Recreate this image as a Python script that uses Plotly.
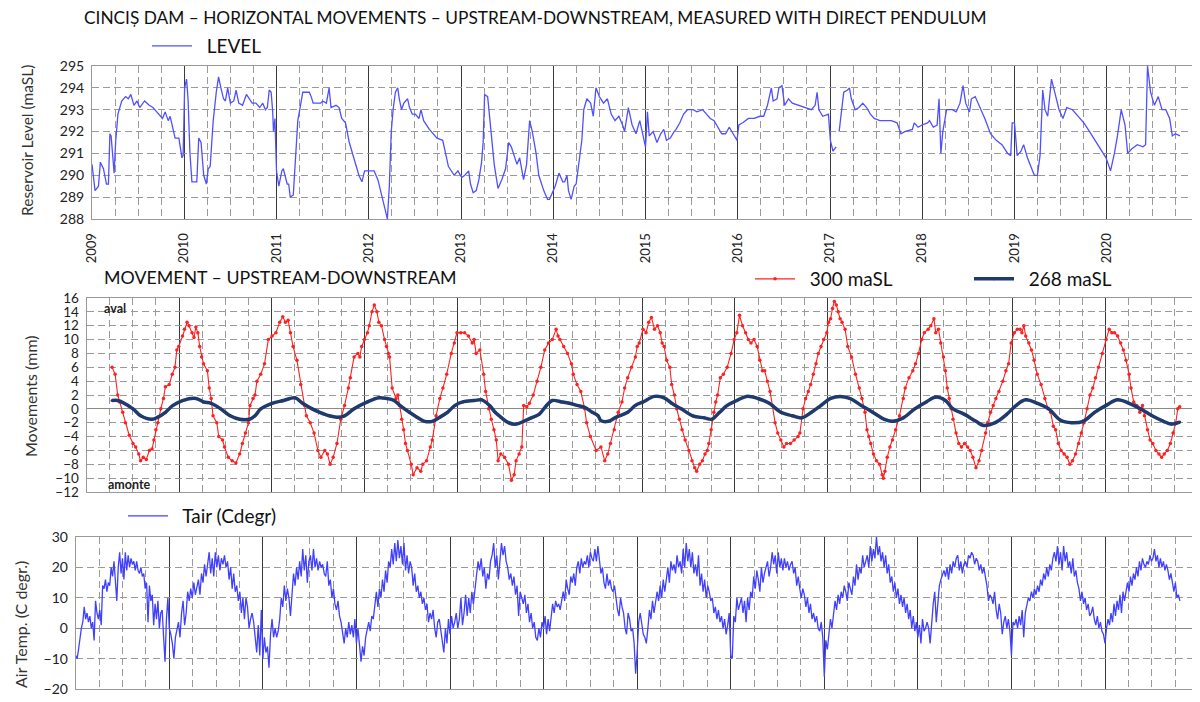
import numpy as np
import plotly.graph_objects as go

# ---------------- DATA ----------------
YEARS = list(range(2009, 2021))
YEAR_LABELS = [str(y) for y in YEARS]

# Reservoir level (maSL): decimal year / value
LEVEL_T = [2009.00, 2009.033, 2009.07, 2009.091, 2009.124, 2009.157, 2009.178, 2009.194, 2009.207, 2009.240,
           2009.256, 2009.281, 2009.322, 2009.364, 2009.393, 2009.421, 2009.455, 2009.488, 2009.517, 2009.570,
           2009.620, 2009.661, 2009.702, 2009.764, 2009.793, 2009.826, 2009.847, 2009.880, 2009.901, 2009.942,
           2009.975, 2009.988, 2010.004, 2010.025, 2010.041, 2010.062, 2010.083, 2010.136, 2010.157, 2010.182,
           2010.211, 2010.240, 2010.260, 2010.281, 2010.314, 2010.347, 2010.372, 2010.397, 2010.426, 2010.446,
           2010.471, 2010.500, 2010.537, 2010.562, 2010.591, 2010.632, 2010.674, 2010.736, 2010.777, 2010.818,
           2010.851, 2010.880, 2010.901, 2010.921, 2010.942, 2010.959, 2010.967, 2010.983, 2011.000, 2011.025,
           2011.058, 2011.074, 2011.116, 2011.132, 2011.149, 2011.182, 2011.202, 2011.231, 2011.252, 2011.285,
           2011.355, 2011.376, 2011.397, 2011.479, 2011.500, 2011.541, 2011.570, 2011.591, 2011.645, 2011.678,
           2011.707, 2011.748, 2011.789, 2011.843, 2011.893, 2011.926, 2011.955, 2012.037, 2012.058, 2012.099,
           2012.140, 2012.174, 2012.202, 2012.223, 2012.244, 2012.264, 2012.289, 2012.314, 2012.331, 2012.355,
           2012.380, 2012.421, 2012.442, 2012.471, 2012.504, 2012.545, 2012.566, 2012.595, 2012.657, 2012.698,
           2012.740, 2012.802, 2012.835, 2012.864, 2012.926, 2012.967, 2013.008, 2013.041, 2013.083, 2013.103,
           2013.132, 2013.165, 2013.194, 2013.223, 2013.240, 2013.256, 2013.289, 2013.326, 2013.360, 2013.401,
           2013.442, 2013.483, 2013.517, 2013.545, 2013.579, 2013.607, 2013.636, 2013.661, 2013.678, 2013.711,
           2013.744, 2013.773, 2013.814, 2013.843, 2013.876, 2013.897, 2013.938, 2013.959, 2014.021, 2014.062,
           2014.103, 2014.124, 2014.149, 2014.165, 2014.194, 2014.227, 2014.248, 2014.269, 2014.310, 2014.331,
           2014.364, 2014.405, 2014.434, 2014.463, 2014.50, 2014.545, 2014.587, 2014.628, 2014.669, 2014.711,
           2014.752, 2014.773, 2014.814, 2014.855, 2014.897, 2014.938, 2014.971, 2015.000, 2015.021, 2015.041,
           2015.083, 2015.124, 2015.165, 2015.198, 2015.227, 2015.269, 2015.310, 2015.331, 2015.372, 2015.413,
           2015.455, 2015.517, 2015.558, 2015.620, 2015.661, 2015.702, 2015.744, 2015.785, 2015.826, 2015.868,
           2015.909, 2015.950, 2015.992, 2016.012, 2016.054, 2016.116, 2016.178, 2016.240, 2016.281, 2016.322,
           2016.364, 2016.384, 2016.426, 2016.446, 2016.479, 2016.508, 2016.550, 2016.591, 2016.653, 2016.736,
           2016.798, 2016.839, 2016.860, 2016.880, 2016.921, 2016.983, 2017.004, 2017.033, 2017.066, 2017.080,
           2017.099, 2017.149, 2017.190, 2017.211, 2017.231, 2017.273, 2017.314, 2017.355, 2017.397, 2017.438,
           2017.479, 2017.541, 2017.603, 2017.665, 2017.727, 2017.769, 2017.810, 2017.893, 2017.913, 2017.955,
           2017.996, 2018.058, 2018.079, 2018.120, 2018.161, 2018.182, 2018.202, 2018.223, 2018.264, 2018.326,
           2018.368, 2018.409, 2018.442, 2018.471, 2018.512, 2018.533, 2018.574, 2018.616, 2018.678, 2018.740,
           2018.802, 2018.864, 2018.926, 2018.959, 2018.975, 2019.000, 2019.029, 2019.070, 2019.099, 2019.140,
           2019.174, 2019.215, 2019.248, 2019.277, 2019.306, 2019.331, 2019.360, 2019.401, 2019.442, 2019.483,
           2019.525, 2019.566, 2019.628, 2019.690, 2019.752, 2019.814, 2019.876, 2019.938, 2019.992, 2020.041,
           2020.083, 2020.116, 2020.157, 2020.198, 2020.227, 2020.269, 2020.331, 2020.393, 2020.421, 2020.442,
           2020.475, 2020.517, 2020.558, 2020.599, 2020.640, 2020.682, 2020.711, 2020.744, 2020.793]
LEVEL_V = [290.5, 289.3, 289.5, 290.6, 290.3, 289.6, 289.6, 291.9, 291.8, 290.1,
           291.5, 292.8, 293.4, 293.6, 293.5, 293.7, 293.2, 293.4, 293.1, 293.4,
           293.2, 293.1, 292.9, 292.6, 292.9, 292.5, 292.7, 292.0, 291.7, 291.7,
           290.8, 290.9, 294.0, 294.4, 293.5, 291.0, 289.7, 289.7, 291.7, 291.5,
           290.0, 289.6, 290.3, 290.4, 292.5, 293.8, 294.5, 294.0, 293.5, 293.4,
           294.0, 293.3, 293.4, 293.9, 293.3, 293.2, 293.7, 293.3, 293.3, 293.1,
           293.3, 293.0, 293.1, 293.9, 293.8, 292.9, 292.0, 292.6, 290.2, 289.5,
           290.2, 290.3, 289.6, 289.6, 289.0, 289.1, 290.5, 292.5, 293.0, 293.8,
           293.8, 293.6, 293.3, 293.3, 293.4, 293.3, 294.0, 293.1, 293.2, 293.1,
           292.6, 292.4, 291.5, 290.7, 290.0, 289.7, 290.2, 290.2, 290.2, 289.8,
           289.0, 288.5, 288.0, 289.5, 292.0, 293.0, 293.8, 294.0, 293.5, 293.0,
           293.3, 293.5, 293.1, 292.8, 292.8, 292.6, 293.0, 292.5, 292.1, 291.9,
           291.7, 291.6, 291.0, 290.4, 290.0, 290.2, 289.9, 290.0, 290.2, 289.6,
           289.2, 289.3, 289.8, 290.6, 291.5, 293.7, 293.6, 292.0, 290.5, 289.4,
           289.8, 290.3, 291.5, 291.3, 290.8, 290.5, 290.8, 290.2, 289.8, 290.5,
           292.5, 292.0, 291.0, 290.0, 289.5, 289.3, 288.9, 288.9, 289.5, 290.1,
           289.7, 289.7, 290.0, 289.3, 288.9, 289.5, 289.6, 290.2, 291.6, 293.0,
           293.5, 293.3, 292.7, 294.0, 293.6, 293.3, 293.5, 292.8, 292.5, 292.7,
           292.3, 292.0, 293.1, 292.3, 291.9, 292.5, 291.8, 291.3, 292.9, 291.8,
           292.0, 291.5, 291.9, 292.1, 291.6, 291.7, 292.0, 292.1, 292.4, 292.8,
           293.0, 293.0, 292.9, 293.0, 292.8, 292.6, 292.5, 292.2, 291.9, 291.9,
           292.2, 291.9, 291.6, 292.3, 292.4, 292.6, 292.6, 292.7, 292.7, 293.2,
           294.0, 293.4, 293.5, 294.0, 294.1, 293.2, 293.5, 293.3, 293.2, 293.1,
           293.0, 293.2, 293.8, 293.0, 292.7, 292.8, 291.6, 291.1, 291.3, None,
           292.0, 293.8, 293.9, 294.0, 293.5, 293.0, 293.1, 293.3, 293.1, 292.8,
           292.6, 292.5, 292.5, 292.5, 292.4, 291.9, 292.0, 292.1, 292.4, 292.2,
           292.3, 292.4, 292.5, 292.2, 292.3, 293.5, 291.0, 292.0, 293.0, 293.0,
           292.9, 293.3, 294.1, 293.3, 292.9, 293.5, 293.6, 293.2, 292.6, 291.9,
           291.6, 291.4, 291.0, 290.9, 292.4, 292.4, 290.9, 291.1, 291.4, 290.8,
           290.4, 290.0, 290.0, 290.9, 293.9, 293.0, 292.7, 294.4, 293.7, 293.0,
           292.6, 293.1, 293.0, 292.7, 292.4, 292.0, 291.6, 291.2, 290.8, 290.2,
           291.0, 291.8, 293.0, 292.3, 291.0, 291.2, 291.4, 291.3, 291.4, 295.0,
           293.8, 293.2, 293.6, 293.0, 293.0, 292.6, 291.8, 291.9, 291.8]

# Pendulum movement at 300 maSL (mm)
M300_T = [2009.276, 2009.309, 2009.337, 2009.358, 2009.391, 2009.420, 2009.461, 2009.502, 2009.531, 2009.564,
          2009.584, 2009.613, 2009.646, 2009.679, 2009.708, 2009.728, 2009.749, 2009.770, 2009.802, 2009.831,
          2009.852, 2009.893, 2009.926, 2009.955, 2009.975, 2009.996, 2010.037, 2010.058, 2010.086, 2010.107,
          2010.140, 2010.160, 2010.181, 2010.202, 2010.222, 2010.243, 2010.263, 2010.305, 2010.325, 2010.346,
          2010.366, 2010.407, 2010.428, 2010.469, 2010.490, 2010.531, 2010.572, 2010.613, 2010.654, 2010.683,
          2010.716, 2010.749, 2010.765, 2010.798, 2010.819, 2010.840, 2010.881, 2010.922, 2010.963, 2011.004,
          2011.045, 2011.086, 2011.119, 2011.148, 2011.177, 2011.202, 2011.230, 2011.272, 2011.313, 2011.354,
          2011.374, 2011.416, 2011.457, 2011.498, 2011.531, 2011.572, 2011.601, 2011.630, 2011.663, 2011.704,
          2011.745, 2011.786, 2011.827, 2011.848, 2011.889, 2011.930, 2011.951, 2011.971, 2012.000, 2012.033,
          2012.053, 2012.082, 2012.107, 2012.136, 2012.156, 2012.185, 2012.218, 2012.239, 2012.259, 2012.272,
          2012.300, 2012.342, 2012.362, 2012.383, 2012.403, 2012.424, 2012.444, 2012.465, 2012.506, 2012.527,
          2012.568, 2012.609, 2012.630, 2012.671, 2012.712, 2012.733, 2012.774, 2012.815, 2012.848, 2012.889,
          2012.938, 2012.971, 2013.000, 2013.041, 2013.082, 2013.123, 2013.165, 2013.185, 2013.206, 2013.247,
          2013.288, 2013.309, 2013.342, 2013.370, 2013.399, 2013.424, 2013.444, 2013.473, 2013.514, 2013.556,
          2013.588, 2013.617, 2013.638, 2013.671, 2013.700, 2013.720, 2013.753, 2013.782, 2013.823, 2013.864,
          2013.905, 2013.947, 2013.988, 2014.029, 2014.070, 2014.091, 2014.111, 2014.152, 2014.193, 2014.235,
          2014.255, 2014.296, 2014.337, 2014.379, 2014.399, 2014.440, 2014.502, 2014.554, 2014.595, 2014.628,
          2014.657, 2014.698, 2014.740, 2014.781, 2014.810, 2014.843, 2014.884, 2014.926, 2014.946, 2014.967,
          2015.008, 2015.041, 2015.070, 2015.099, 2015.132, 2015.165, 2015.194, 2015.215, 2015.236, 2015.264,
          2015.298, 2015.318, 2015.347, 2015.372, 2015.401, 2015.430, 2015.463, 2015.504, 2015.537, 2015.566,
          2015.587, 2015.620, 2015.649, 2015.678, 2015.702, 2015.719, 2015.744, 2015.773, 2015.793, 2015.814,
          2015.843, 2015.876, 2015.917, 2015.959, 2015.992, 2016.021, 2016.050, 2016.083, 2016.116, 2016.145,
          2016.174, 2016.207, 2016.240, 2016.269, 2016.298, 2016.322, 2016.351, 2016.380, 2016.405, 2016.434,
          2016.463, 2016.496, 2016.529, 2016.558, 2016.599, 2016.640, 2016.682, 2016.702, 2016.736, 2016.764,
          2016.793, 2016.818, 2016.847, 2016.876, 2016.901, 2016.930, 2016.959, 2016.992, 2017.012, 2017.033,
          2017.054, 2017.074, 2017.095, 2017.116, 2017.136, 2017.157, 2017.190, 2017.219, 2017.260, 2017.302,
          2017.343, 2017.372, 2017.405, 2017.426, 2017.446, 2017.467, 2017.496, 2017.529, 2017.562, 2017.591,
          2017.603, 2017.620, 2017.645, 2017.674, 2017.702, 2017.736, 2017.777, 2017.818, 2017.839, 2017.880,
          2017.921, 2017.950, 2017.983, 2018.017, 2018.045, 2018.087, 2018.116, 2018.149, 2018.169, 2018.198,
          2018.223, 2018.252, 2018.273, 2018.293, 2018.314, 2018.335, 2018.355, 2018.388, 2018.417, 2018.446,
          2018.479, 2018.512, 2018.541, 2018.570, 2018.603, 2018.636, 2018.665, 2018.707, 2018.727, 2018.760,
          2018.789, 2018.818, 2018.851, 2018.893, 2018.926, 2018.955, 2018.983, 2019.017, 2019.050, 2019.079,
          2019.099, 2019.120, 2019.140, 2019.174, 2019.202, 2019.231, 2019.264, 2019.306, 2019.347, 2019.380,
          2019.409, 2019.438, 2019.463, 2019.492, 2019.521, 2019.554, 2019.587, 2019.616, 2019.645, 2019.678,
          2019.711, 2019.740, 2019.769, 2019.802, 2019.835, 2019.864, 2019.893, 2019.926, 2019.967, 2020.008,
          2020.041, 2020.070, 2020.099, 2020.132, 2020.165, 2020.194, 2020.223, 2020.256, 2020.277, 2020.306,
          2020.339, 2020.372, 2020.401, 2020.421, 2020.455, 2020.483, 2020.512, 2020.545, 2020.579, 2020.607,
          2020.636, 2020.669, 2020.702, 2020.731, 2020.760, 2020.781, 2020.802]
M300_V = [6.0, 5.0, 2.0, 1.0, -0.5, -2.0, -3.8, -5.0, -5.5, -6.5,
          -7.5, -7.0, -7.3, -6.0, -5.8, -4.5, -3.0, -2.0, 0.0, 1.5,
          3.2, 3.5, 5.0, 6.0, 8.5, 9.0, 10.5, 11.5, 12.5, 12.0,
          11.0, 10.3, 11.8, 11.0, 9.0, 7.5, 6.5, 5.5, 3.0, 1.5,
          -1.0, -2.0, -4.0, -4.5, -5.5, -7.0, -7.5, -7.8, -6.5, -5.0,
          -3.5, -2.0, 0.5, 1.5, 2.0, 4.0, 5.0, 6.5, 10.0, 10.5,
          11.0, 12.5, 13.3, 12.5, 12.8, 11.0, 9.0, 7.0, 3.5, 0.5,
          -1.0, -2.0, -3.5, -6.0, -7.0, -6.0, -6.5, -8.0, -7.0, -5.0,
          -1.5, 0.5, 3.0, 4.5, 7.5, 8.0, 7.5, 9.0, 10.0, 11.0,
          12.0, 14.0, 15.0, 14.0, 12.5, 12.0, 10.0, 9.0, 8.0, 7.5,
          3.0, 1.5, 2.0, 0.5, -1.5, -3.0, -5.0, -6.0, -8.0, -9.5,
          -8.5, -9.0, -8.0, -7.5, -5.5, -4.5, -1.0, 1.5, 3.0, 5.0,
          8.0, 9.5, 11.0, 11.0, 11.0, 10.5, 9.5, 10.0, 8.0, 8.5,
          5.0, 2.5, 0.0, -1.5, -3.0, -4.5, -7.5, -6.5, -7.0, -8.0,
          -10.3, -9.5, -7.5, -6.5, -5.5, 0.5, 0.3, 0.8, 2.0, 4.0,
          6.0, 8.5, 9.5, 10.0, 11.5, 10.5, 10.0, 9.0, 8.0, 6.5,
          5.0, 3.5, 2.5, 0.0, -2.0, -4.0, -6.0, -5.5, -7.5, -6.5,
          -5.0, -3.0, -0.5, 1.0, 3.0, 4.5, 6.0, 7.5, 9.0, 9.5,
          11.5, 11.0, 12.5, 13.2, 11.5, 12.0, 11.0, 9.5, 9.0, 7.0,
          6.0, 3.5, 2.0, 0.0, -1.5, -3.0, -4.5, -6.0, -7.5, -8.5,
          -9.0, -8.0, -7.5, -6.5, -6.0, -5.0, -3.0, -0.5, 1.0, 2.0,
          4.5, 5.0, 6.0, 8.0, 10.0, 11.0, 13.5, 12.0, 11.0, 10.0,
          9.5, 10.0, 9.0, 7.0, 5.5, 5.5, 4.0, 2.5, 0.5, -2.0,
          -3.5, -4.5, -5.5, -5.0, -5.0, -4.5, -4.0, -3.5, 0.0, 1.5,
          2.5, 3.5, 5.0, 6.5, 8.0, 9.0, 10.0, 11.0, 12.5, 13.0,
          14.5, 15.5, 15.0, 14.0, 13.0, 12.5, 11.5, 9.0, 7.5, 5.0,
          3.0, 1.5, -0.5, -3.0, -4.0, -5.0, -6.5, -7.5, -8.0, -9.5,
          -10.0, -9.0, -7.0, -5.5, -4.5, -3.0, -1.0, 1.5, 3.0, 4.5,
          5.5, 6.5, 8.0, 10.0, 11.0, 11.5, 12.0, 13.0, 11.0, 11.5,
          9.5, 7.5, 5.5, 3.0, 1.5, 0.0, -1.5, -3.5, -5.0, -5.5,
          -5.0, -5.5, -6.0, -7.0, -8.5, -7.5, -6.0, -3.5, -2.0, -0.5,
          0.5, 1.5, 2.5, 4.0, 5.5, 6.5, 9.5, 11.0, 11.5, 11.5,
          11.0, 12.0, 10.5, 9.5, 8.5, 7.0, 5.0, 3.5, 1.5, 0.0,
          -0.5, -2.5, -3.0, -5.0, -6.0, -6.5, -7.0, -8.0, -7.5, -6.5,
          -5.0, -3.5, -2.0, 0.0, 2.0, 3.0, 4.5, 6.0, 8.0, 10.0,
          11.5, 11.0, 11.0, 10.5, 9.5, 8.5, 7.0, 5.0, 3.0, 1.0,
          0.5, -0.5, 0.5, -1.0, -3.0, -4.5, -5.0, -6.0, -6.5, -7.0,
          -6.5, -6.0, -5.0, -3.5, -2.0, 0.0, 0.3]

# Pendulum movement at 268 maSL (mm)
M268_T = [2009.276, 2009.337, 2009.502, 2009.584, 2009.708, 2009.770, 2009.852, 2009.934, 2010.037, 2010.181,
          2010.263, 2010.346, 2010.449, 2010.551, 2010.654, 2010.757, 2010.819, 2010.881, 2011.004, 2011.128,
          2011.251, 2011.333, 2011.436, 2011.519, 2011.621, 2011.704, 2011.786, 2011.889, 2012.033, 2012.156,
          2012.239, 2012.321, 2012.383, 2012.486, 2012.568, 2012.650, 2012.733, 2012.815, 2012.897, 2012.979,
          2013.062, 2013.185, 2013.267, 2013.350, 2013.412, 2013.473, 2013.556, 2013.638, 2013.720, 2013.802,
          2013.885, 2013.967, 2014.029, 2014.132, 2014.214, 2014.296, 2014.379, 2014.461, 2014.523, 2014.554,
          2014.636, 2014.719, 2014.843, 2014.926, 2015.008, 2015.132, 2015.236, 2015.318, 2015.421, 2015.545,
          2015.669, 2015.752, 2015.835, 2015.917, 2016.021, 2016.124, 2016.248, 2016.372, 2016.496, 2016.620,
          2016.723, 2016.826, 2016.930, 2017.033, 2017.136, 2017.240, 2017.364, 2017.488, 2017.612, 2017.694,
          2017.818, 2017.942, 2018.066, 2018.169, 2018.273, 2018.355, 2018.479, 2018.603, 2018.686, 2018.810,
          2018.934, 2019.037, 2019.140, 2019.264, 2019.388, 2019.512, 2019.636, 2019.760, 2019.884, 2020.008,
          2020.132, 2020.256, 2020.380, 2020.504, 2020.628, 2020.711, 2020.802]
M268_V = [1.2, 1.2, 0.0, -1.0, -1.5, -1.2, -0.5, 0.5, 1.2, 1.5,
          1.0, 0.8, 0.0, -1.0, -1.5, -1.5, -1.0, 0.0, 0.8, 1.2,
          1.6, 0.8, 0.0, -0.5, -1.0, -1.2, -1.0, 0.0, 1.0, 1.6,
          1.5, 1.2, 0.5, -0.5, -1.2, -1.8, -1.8, -1.2, -0.5, 0.5,
          1.0, 1.2, 1.3, 0.5, -0.5, -1.2, -2.0, -2.2, -1.8, -1.3,
          -0.8, 0.5, 1.2, 1.0, 0.8, 0.5, 0.2, -0.5, -1.0, -1.7,
          -1.8, -1.2, -0.5, 0.5, 1.0, 1.8, 1.6, 0.8, 0.0, -1.0,
          -1.3, -1.5, -0.5, 0.5, 1.2, 1.8, 1.5, 0.8, -0.5, -1.0,
          -1.3, -0.5, 0.5, 1.5, 1.8, 1.5, 0.5, -0.5, -1.5, -1.8,
          -1.3, 0.0, 1.0, 1.7, 1.2, 0.0, -0.8, -1.8, -2.4, -2.0,
          -0.8, 0.5, 1.3, 0.8, 0.0, -1.6, -2.0, -1.8, -0.5, 0.5,
          1.3, 0.8, 0.0, -1.0, -1.8, -2.2, -1.9]

# Air temperature (deg C), readings spread evenly through each calendar year
TAIR_2009 = [-9, -10, -7, -3, 0, 2, 7, 3, 5, 2, 4, 0, 2, -4, 9, 5, 3, 6, 1, 14, 13, 16, 12, 15, 14, 20, 17, 22,
             14, 9, 20, 25, 18, 23, 16, 25, 19, 24, 20, 23, 21, 22, 19, 22, 19, 18, 20, 17, 18, 13, 15, 2, 14,
             9, 11, 1, 8, 3, 9, 0, 5, 6, -3, -11, 3, 10]
TAIR_2010 = [0, -2, -5, -10, -3, 0, 2, -3, 5, 9, 1, 5, 12, 9, 13, 10, 15, 11, 14, 16, 11, 18, 15, 21, 17, 22,
             25, 18, 23, 17, 25, 20, 24, 19, 23, 21, 24, 20, 22, 16, 20, 13, 18, 12, 14, 9, 12, 5, 10, 3, 10,
             7, 0, 3, 5, 2, -3, -8, 1, -9, 6]
TAIR_2011 = [-10, -3, -8, -6, -13, -2, 3, -3, 0, -3, -1, 3, 10, 7, 14, 9, 13, 10, 4, 11, 18, 14, 20, 16, 22,
             17, 26, 19, 24, 15, 22, 24, 19, 26, 20, 23, 19, 22, 20, 21, 18, 17, 22, 14, 16, 10, 13, 8, 6, 9,
             4, 2, -2, -5, 0, -3, 2, -2, 1, -3, 3]
TAIR_2012 = [-5, 0, -5, -11, -6, -9, -3, 0, 2, -1, 4, 3, 8, 12, 7, 13, 10, 16, 12, 19, 15, 22, 20, 26, 21, 28,
             22, 29, 23, 27, 21, 28, 19, 24, 18, 22, 20, 14, 18, 12, 14, 10, 12, 8, 10, 6, 8, 2, 5, 3, 6, 0,
             -3, 2, 3, -1, -4, -8, 0, -5, 3]
TAIR_2013 = [-2, 4, 0, 2, 5, 0, 3, 10, 1, 5, 11, 4, 10, 5, 12, 8, 13, 16, 22, 19, 23, 17, 20, 13, 18, 16, 22,
             24, 28, 20, 24, 16, 22, 28, 24, 27, 22, 20, 16, 18, 14, 17, 11, 14, 4, 12, 10, 8, 11, 5, 8, 2, 5,
             0, 2, -3, -4, 0, -3, 2]
TAIR_2014 = [0, 4, -2, 3, -1, 4, 8, 5, 9, 7, 8, 6, 10, 12, 9, 16, 13, 11, 17, 15, 18, 14, 20, 22, 18, 23, 20,
             22, 21, 24, 20, 25, 23, 22, 26, 22, 27, 22, 18, 20, 15, 13, 18, 14, 16, 13, 12, 14, 9, 6, 4, 10,
             7, 5, 0, -2, 5, 3, -1, 0, -5, -15]
TAIR_2015 = [-8, 2, 5, 1, -2, -3, -5, 0, 6, 3, 9, 5, 8, 12, 9, 14, 10, 16, 12, 17, 20, 15, 22, 19, 21, 18, 24,
             20, 22, 18, 26, 20, 28, 22, 26, 20, 25, 18, 21, 17, 24, 14, 18, 12, 16, 10, 14, 12, 9, 10, 5, 7,
             3, 6, 2, 4, 0, 3, -2, 1, 5]
TAIR_2016 = [-9, -10, 4, 2, 10, 6, 8, 10, 5, 9, 2, 10, 6, 12, 10, 17, 13, 19, 16, 12, 20, 15, 18, 20, 22, 17,
             20, 25, 21, 24, 18, 25, 20, 23, 19, 23, 20, 22, 19, 21, 22, 18, 20, 14, 17, 13, 10, 13, 11, 7, 10,
             5, 8, 3, 5, 2, 4, 0, -1, 2, -3]
TAIR_2017 = [-16, -4, -7, -3, 3, 0, 5, 9, 6, 11, 8, 12, 10, 14, 12, 9, 15, 13, 11, 17, 14, 21, 16, 20, 18, 24,
             20, 22, 24, 20, 27, 22, 26, 23, 30, 24, 27, 22, 25, 20, 24, 18, 21, 15, 17, 12, 15, 10, 13, 8, 11,
             7, 10, 5, 8, 3, 6, 0, 4, -1, 2]
TAIR_2018 = [-3, 1, -5, 3, -1, 0, 2, 0, -5, 3, 8, 12, 2, 8, 14, 16, 18, 19, 17, 20, 16, 21, 18, 22, 20, 23, 24,
             19, 22, 18, 21, 22, 20, 24, 23, 25, 24, 21, 23, 22, 19, 21, 18, 20, 17, 14, 9, 11, 10, 8, 12, 6,
             3, 8, 5, -2, 2, 4, 0, 3, -1]
TAIR_2019 = [-9, 2, 1, 3, 0, 4, 1, 6, -3, 5, 8, 10, 9, 12, 10, 13, 11, 14, 12, 16, 14, 18, 16, 20, 17, 21, 19,
             23, 25, 22, 27, 21, 25, 19, 27, 22, 25, 20, 22, 18, 23, 17, 19, 15, 13, 9, 12, 8, 10, 6, 8, 4, 5,
             7, 3, 1, 4, 0, 2, -1, -2]
TAIR_2020 = [-5, 0, 3, 1, 5, 2, 8, 4, 9, 6, 11, 5, 12, 9, 13, 15, 12, 17, 14, 18, 16, 20, 17, 22, 19, 23, 21,
             20, 22, 21, 24, 22, 23, 26, 22, 24, 20, 23, 20, 22, 19, 21, 19, 16, 18, 14, 12, 15, 10, 11, 9]
TAIR_END = 2020.80  # last reading of the record (decimal year)

TITLE = "CINCIȘ DAM – HORIZONTAL MOVEMENTS – UPSTREAM-DOWNSTREAM, MEASURED WITH DIRECT PENDULUM"
SUBTITLE = "MOVEMENT – UPSTREAM-DOWNSTREAM"
SERIES_NAMES = ["LEVEL", "300 maSL", "268 maSL", "Tair (Cdegr)"]

# ---------------- BUILD ----------------
tair_years = [TAIR_2009, TAIR_2010, TAIR_2011, TAIR_2012, TAIR_2013, TAIR_2014,
              TAIR_2015, TAIR_2016, TAIR_2017, TAIR_2018, TAIR_2019, TAIR_2020]
tair_t, tair_v = [], []
for yr, vals in zip(YEARS, tair_years):
    end = TAIR_END if yr == YEARS[-1] else yr + 1
    ts = np.linspace(yr, end, len(vals), endpoint=(yr == YEARS[-1]))
    tair_t.extend(ts.tolist())
    tair_v.extend(vals)

# page body has an 8px margin: the figure sits at (8, 8) in the window
OFF = 8
W, H = 1200 - OFF, 702 - OFF
FONT = "Lato"
DASH = "7px,4px"
DGRID = "#9a9a9a"
YGRID = "#3a3a3a"
PAD = "\u00a0\u00a0"  # small gap between legend symbol and label


def px(x):
    return (x - OFF) / W


def py(y):
    return 1 - (y - OFF) / H


fig = go.Figure()
fig.add_trace(go.Scatter(x=LEVEL_T, y=LEVEL_V, name=PAD + SERIES_NAMES[0], mode="lines",
                         line=dict(color="#5050ff", width=1.3), xaxis="x", yaxis="y",
                         legend="legend", connectgaps=False))
fig.add_trace(go.Scatter(x=M300_T, y=M300_V, name=PAD + SERIES_NAMES[1], mode="lines+markers",
                         line=dict(color="#ff2020", width=1.1), marker=dict(size=3.5, color="#ff2020"),
                         xaxis="x2", yaxis="y2", legend="legend2"))
fig.add_trace(go.Scatter(x=M268_T, y=M268_V, name=PAD + SERIES_NAMES[2], mode="lines+markers",
                         line=dict(color="#1f3a6e", width=3.5, shape="spline"),
                         marker=dict(size=3, color="#1f3a6e"),
                         xaxis="x2", yaxis="y2", legend="legend2"))
fig.add_trace(go.Scatter(x=tair_t, y=tair_v, name=PAD + SERIES_NAMES[3], mode="lines",
                         line=dict(color="#4040ff", width=1.3), xaxis="x3", yaxis="y3",
                         legend="legend3"))


def xaxis(domain, labels, anchor):
    return dict(domain=domain, range=[2009, 2021], anchor=anchor, automargin=False,
                showgrid=True, gridcolor=YGRID, gridwidth=1,
                tickmode="array", tickvals=YEARS,
                ticktext=YEAR_LABELS if labels else [""] * len(YEARS),
                tickangle=-90, tickfont=dict(family=FONT, size=13, color="#222"),
                ticklabelstandoff=8, showline=True, mirror=True, linecolor="#999", linewidth=1,
                zeroline=False, fixedrange=True,
                minor=dict(tickmode="linear", tick0=2009, dtick=0.25, showgrid=True,
                           gridcolor=DGRID, griddash=DASH, gridwidth=1))


def yaxis(domain, rng, dtick, anchor, zero, fsize=14):
    return dict(domain=domain, range=rng, dtick=dtick, anchor=anchor, automargin=False,
                showgrid=True, gridcolor=DGRID, griddash=DASH, gridwidth=1,
                tickfont=dict(family=FONT, size=fsize, color="#222"), ticklabelstandoff=4,
                showline=True, mirror=True, linecolor="#999", linewidth=1,
                zeroline=zero, zerolinecolor="#8a8a8a", zerolinewidth=1.2, fixedrange=True)


LEG_FONT = dict(family=FONT, size=19, color="#111")
fig.update_layout(
    width=W, height=H, margin=dict(l=0, r=0, t=0, b=0, autoexpand=False),
    paper_bgcolor="white", plot_bgcolor="white",
    font=dict(family=FONT, color="#111"),
    xaxis=xaxis([px(92), px(1199)], True, "y"),
    yaxis=yaxis([py(219), py(66)], [288, 295], 1, "x", False),
    xaxis2=xaxis([px(86.5), px(1198)], False, "y2"),
    yaxis2=yaxis([py(492), py(298)], [-12, 16], 2, "x2", True, 13.5),
    xaxis3=xaxis([px(75.7), px(1198.6)], True, "y3"),
    yaxis3=yaxis([py(689), py(537)], [-20, 30], 10, "x3", True),
    legend=dict(x=px(147), y=py(46), xanchor="left", yanchor="middle", bgcolor="rgba(0,0,0,0)",
                font=LEG_FONT, itemwidth=40),
    legend2=dict(x=px(750), y=py(279), xanchor="left", yanchor="middle", orientation="h",
                 entrywidth=164, entrywidthmode="pixels", bgcolor="rgba(0,0,0,0)", font=LEG_FONT,
                 itemwidth=40),
    legend3=dict(x=px(123), y=py(516), xanchor="left", yanchor="middle", bgcolor="rgba(0,0,0,0)",
                 font=LEG_FONT, itemwidth=40),
    showlegend=True,
)

annotations = [
    dict(text=TITLE, x=px(82), y=py(17), xanchor="left", yanchor="middle",
         font=dict(family=FONT, size=17.3, color="#111")),
    dict(text=SUBTITLE, x=px(102), y=py(277), xanchor="left", yanchor="middle",
         font=dict(family=FONT, size=17.8, color="#111")),
    dict(text="Reservoir Level (maSL)", x=px(27), y=py(141), textangle=-90,
         xanchor="center", yanchor="middle", font=dict(family=FONT, size=15.5, color="#333")),
    dict(text="Movements (mm)", x=px(30), y=py(396), textangle=-90,
         xanchor="center", yanchor="middle", font=dict(family=FONT, size=16, color="#333")),
    dict(text="Air Temp. (C degr.)", x=px(20), y=py(625), textangle=-90,
         xanchor="center", yanchor="middle", font=dict(family=FONT, size=16, color="#333")),
    dict(text="<b>aval</b>", x=px(102), y=py(308), xanchor="left", yanchor="middle",
         font=dict(family=FONT, size=12.5, color="#222")),
    dict(text="<b>amonte</b>", x=px(106), y=py(485), xanchor="left", yanchor="middle",
         font=dict(family=FONT, size=12.5, color="#222")),
]
for a in annotations:
    a.update(xref="paper", yref="paper", showarrow=False)
fig.update_layout(annotations=annotations)

fig.write_html("out.html")
